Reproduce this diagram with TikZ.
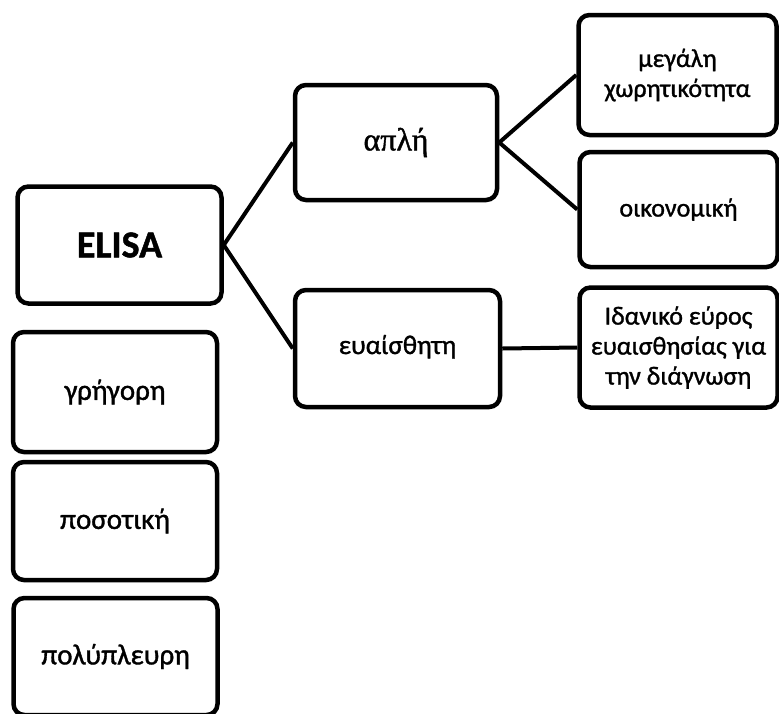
\documentclass[tikz,border=0pt]{standalone}
\usepackage{fontspec}
\setmainfont{Carlito}[FakeBold=1.2]
\newfontfamily\timesgr{Liberation Serif}[FakeBold=1.2]
\usetikzlibrary{positioning}

\begin{document}
\begin{tikzpicture}[
  x=1pt, y=-1pt,
  box/.style={rectangle, draw, rounded corners=11pt, line width=4.5pt, minimum width=204pt, minimum height=117pt, inner sep=0pt, align=center, font=\fontsize{26}{30}\selectfont},
  prop/.style={box, font=\fontsize{29}{33}\selectfont},
  leaf/.style={box, minimum width=198pt},
  link/.style={line width=4pt}
]
  \useasboundingbox (0,0) rectangle (779,713);

  % root and its properties
  \node[box, font=\fontsize{38}{44}\selectfont\bfseries] (elisa) at (119.5,245) {ELISA};
  \node[prop, minimum height=120pt] (fast) at (115,392) {γρήγορη};
  \node[prop, minimum height=118pt] (quant) at (115,521) {ποσοτική};
  \node[prop] (multi) at (115.5,656.5) {πολύπλευρη};

  % middle level
  \node[box, minimum width=202pt, minimum height=115pt, font=\fontsize{32}{36}\selectfont\timesgr] (simple) at (396,142.5) {απλή};
  \node[box, minimum width=205pt, font=\fontsize{27}{31}\selectfont] (sens) at (397.5,348.5) {\raisebox{8pt}{ευαίσθητη}};

  % leaves
  \node[leaf, minimum height=120pt] (cap) at (677.5,75) {μεγάλη\\χωρητικότητα};
  \node[leaf, minimum height=115pt] (cheap) at (678.5,209.5) {οικονομική};
  \node[leaf, minimum height=120pt] (range) at (678.5,347.5) {Ιδανικό εύρος\\ευαισθησίας για\\την διάγνωση};

  \draw[link] (elisa.east) -- (simple.west);
  \draw[link] (elisa.east) -- (sens.west);
  \draw[link] (simple.east) -- (cap.west);
  \draw[link] (simple.east) -- (cheap.west);
  \draw[link] (sens.east) -- (range.west);
\end{tikzpicture}
\end{document}
